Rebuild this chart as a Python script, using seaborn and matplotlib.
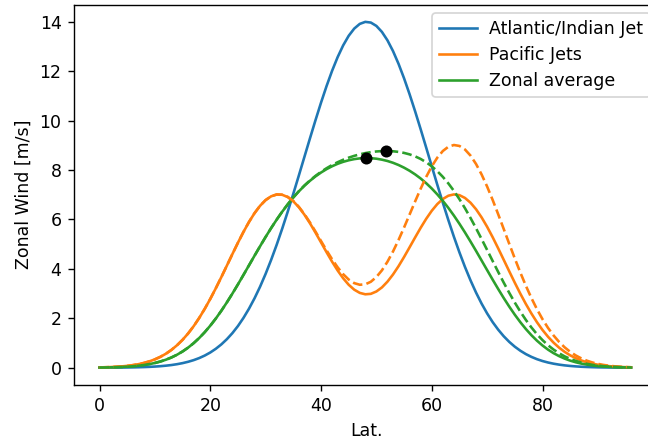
import matplotlib
matplotlib.use("Agg")
import matplotlib.pyplot as plt
import seaborn as sns
import pandas as pd

# x positions (in the plotted axis units), one per degree
lat = list(range(0, 97))

atlantic = [0.002, 0.002, 0.003, 0.005, 0.007, 0.009, 0.013, 0.018, 0.025, 0.034,
            0.046, 0.061, 0.082, 0.108, 0.142, 0.185, 0.239, 0.306, 0.389, 0.491,
            0.615, 0.765, 0.943, 1.154, 1.400, 1.686, 2.016, 2.390, 2.811, 3.280,
            3.800, 4.367, 4.978, 5.632, 6.321, 7.041, 7.780, 8.530, 9.278, 10.014,
            10.725, 11.396, 12.015, 12.568, 13.044, 13.433, 13.725, 13.915, 13.997, 13.969,
            13.833, 13.591, 13.250, 12.817, 12.300, 11.712, 11.066, 10.374, 9.650, 8.905,
            8.154, 7.407, 6.678, 5.973, 5.300, 4.667, 4.077, 3.535, 3.040, 2.594,
            2.197, 1.845, 1.539, 1.272, 1.044, 0.850, 0.687, 0.550, 0.438, 0.345,
            0.270, 0.210, 0.162, 0.124, 0.094, 0.071, 0.053, 0.039, 0.029, 0.021,
            0.015, 0.011, 0.008, 0.006, 0.004, 0.003, 0.002]

pacific = [0.012, 0.018, 0.026, 0.037, 0.053, 0.074, 0.103, 0.141, 0.191, 0.256,
           0.338, 0.440, 0.567, 0.722, 0.909, 1.128, 1.385, 1.679, 2.012, 2.381,
           2.783, 3.213, 3.666, 4.131, 4.599, 5.058, 5.496, 5.900, 6.256, 6.554,
           6.784, 6.937, 7.009, 6.998, 6.905, 6.735, 6.494, 6.195, 5.849, 5.469,
           5.073, 4.675, 4.291, 3.935, 3.620, 3.357, 3.158, 3.028, 2.971, 2.989,
           3.085, 3.249, 3.482, 3.771, 4.108, 4.480, 4.874, 5.273, 5.663, 6.027,
           6.351, 6.622, 6.828, 6.961, 7.013, 6.983, 6.870, 6.678, 6.413, 6.084,
           5.703, 5.281, 4.830, 4.365, 3.898, 3.438, 2.995, 2.577, 2.192, 1.841,
           1.527, 1.252, 1.014, 0.811, 0.641, 0.500, 0.386, 0.294, 0.221, 0.165,
           0.121, 0.088, 0.063, 0.045, 0.031, 0.022, 0.015]

pacific_alt = [0.012, 0.018, 0.026, 0.037, 0.053, 0.074, 0.103, 0.141, 0.191, 0.256,
               0.338, 0.440, 0.567, 0.722, 0.909, 1.128, 1.385, 1.679, 2.012, 2.381,
               2.783, 3.213, 3.666, 4.131, 4.599, 5.058, 5.497, 5.900, 6.257, 6.555,
               6.785, 6.939, 7.012, 7.003, 6.913, 6.746, 6.510, 6.217, 5.879, 5.511,
               5.129, 4.750, 4.390, 4.064, 3.786, 3.568, 3.423, 3.357, 3.375, 3.478,
               3.670, 3.940, 4.289, 4.702, 5.169, 5.674, 6.201, 6.731, 7.245, 7.723,
               8.147, 8.501, 8.770, 8.943, 9.013, 8.975, 8.831, 8.585, 8.244, 7.822,
               7.332, 6.789, 6.210, 5.612, 5.011, 4.420, 3.850, 3.314, 2.818, 2.367,
               1.964, 1.610, 1.304, 1.043, 0.824, 0.643, 0.496, 0.378, 0.285, 0.212,
               0.155, 0.113, 0.081, 0.057, 0.040, 0.028, 0.019]

zonal = [0.007, 0.010, 0.015, 0.021, 0.030, 0.042, 0.058, 0.080, 0.108, 0.145,
         0.191, 0.251, 0.324, 0.415, 0.525, 0.657, 0.812, 0.993, 1.200, 1.436,
         1.699, 1.989, 2.304, 2.643, 3.000, 3.372, 3.756, 4.145, 4.534, 4.917,
         5.292, 5.652, 5.994, 6.315, 6.613, 6.888, 7.137, 7.363, 7.564, 7.742,
         7.899, 8.036, 8.153, 8.252, 8.332, 8.395, 8.442, 8.472, 8.484, 8.479,
         8.459, 8.420, 8.366, 8.294, 8.204, 8.096, 7.970, 7.824, 7.657, 7.466,
         7.253, 7.015, 6.753, 6.467, 6.157, 5.825, 5.474, 5.106, 4.727, 4.339,
         3.950, 3.563, 3.185, 2.819, 2.471, 2.144, 1.841, 1.564, 1.315, 1.093,
         0.899, 0.731, 0.588, 0.468, 0.368, 0.286, 0.220, 0.167, 0.125, 0.093,
         0.068, 0.049, 0.035, 0.025, 0.018, 0.012, 0.008]

zonal_alt = [0.007, 0.010, 0.015, 0.021, 0.030, 0.042, 0.058, 0.080, 0.108, 0.145,
             0.191, 0.251, 0.324, 0.415, 0.525, 0.657, 0.812, 0.993, 1.200, 1.436,
             1.699, 1.989, 2.304, 2.643, 3.000, 3.372, 3.756, 4.145, 4.534, 4.918,
             5.293, 5.653, 5.995, 6.318, 6.617, 6.894, 7.145, 7.374, 7.579, 7.763,
             7.927, 8.073, 8.203, 8.316, 8.415, 8.501, 8.574, 8.636, 8.686, 8.724,
             8.752, 8.766, 8.770, 8.760, 8.735, 8.693, 8.634, 8.553, 8.448, 8.314,
             8.151, 7.954, 7.724, 7.458, 7.157, 6.821, 6.454, 6.060, 5.642, 5.208,
             4.765, 4.317, 3.875, 3.442, 3.028, 2.635, 2.269, 1.932, 1.628, 1.356,
             1.117, 0.910, 0.733, 0.584, 0.459, 0.357, 0.275, 0.209, 0.157, 0.116,
             0.085, 0.062, 0.044, 0.031, 0.022, 0.015, 0.010]

max_lat = [48.2, 51.7]
max_val = [8.48, 8.77]

x_ticks = [0, 20, 40, 60, 80]
y_ticks = [0, 2, 4, 6, 8, 10, 12, 14]

df = pd.DataFrame({"lat": lat, "atl": atlantic, "pac": pacific, "pac2": pacific_alt,
                   "zon": zonal, "zon2": zonal_alt})
dots = pd.DataFrame({"lat": max_lat, "val": max_val})

DPI = 125
W, H = 648, 441
fig = plt.figure(figsize=(W / DPI, H / DPI), dpi=DPI)
left, right, top, bottom = 73.7, 659.0, 4.5, 384.5
ax = fig.add_axes([left / W, 1 - bottom / H, (right - left) / W, (bottom - top) / H])

c_blue, c_orange, c_green = "#1f77b4", "#ff7f0e", "#2ca02c"
lw = 1.5
sns.lineplot(data=df, x="lat", y="atl", ax=ax, color=c_blue, lw=lw, label="Atlantic/Indian Jet")
sns.lineplot(data=df, x="lat", y="pac", ax=ax, color=c_orange, lw=lw, label="Pacific Jets")
sns.lineplot(data=df, x="lat", y="zon", ax=ax, color=c_green, lw=lw, label="Zonal average")
sns.lineplot(data=df, x="lat", y="pac2", ax=ax, color=c_orange, lw=lw, linestyle="--", legend=False)
sns.lineplot(data=df, x="lat", y="zon2", ax=ax, color=c_green, lw=lw, linestyle="--", legend=False)
sns.scatterplot(data=dots, x="lat", y="val", ax=ax, color="black", s=48, linewidth=0,
                zorder=5, legend=False)

ax.set_xlim(-4.66, (right - 99.5) / 5.5375)
ax.set_ylim(-0.68, 14.70)
ax.set_xticks(x_ticks)
ax.set_yticks(y_ticks)
ax.set_xlabel("Lat.")
ax.set_ylabel("Zonal Wind [m/s]")
ax.legend(loc="upper right", handlelength=2.2, handletextpad=0.7, labelspacing=0.45)

fig.savefig("out.png", dpi=DPI)
